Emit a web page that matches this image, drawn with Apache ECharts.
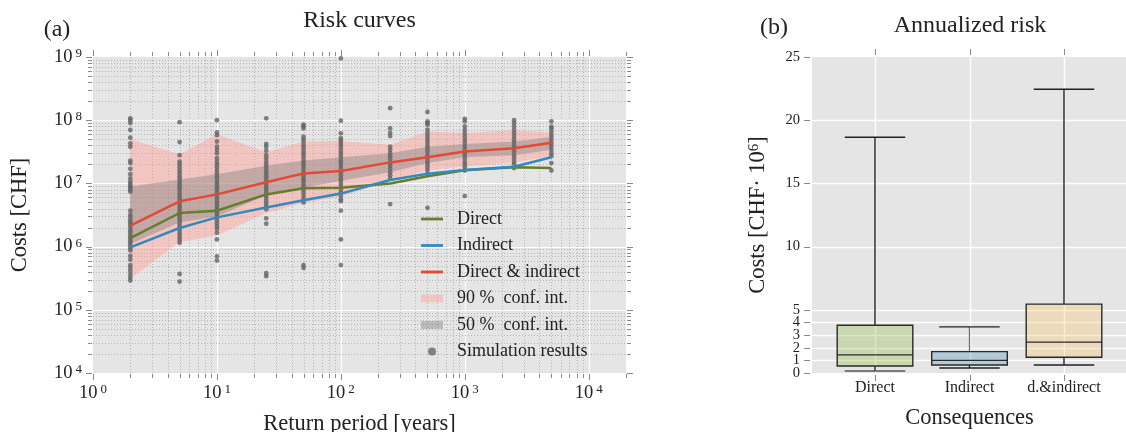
<!DOCTYPE html>
<html><head><meta charset="utf-8">
<script src="https://cdn.jsdelivr.net/npm/echarts@6/dist/echarts.min.js"></script>
<style>html,body{margin:0;padding:0;background:#fff}#c{width:1126px;height:432px}</style>
</head><body><div id="c"></div>
<script>
const FONT = '"Liberation Serif", "DejaVu Serif", serif';

// ---------- panel (a): risk curves ----------
const periods = [2, 5, 10, 25, 50, 100, 250, 500, 1000, 2500, 5000];
const directCosts   = [1.36e6, 3.4e6, 3.7e6, 6.7e6, 8.4e6, 8.5e6, 1.0e7, 1.3e7, 1.62e7, 1.8e7, 1.75e7];
const indirectCosts = [9.7e5, 1.97e6, 2.9e6, 4.15e6, 5.4e6, 6.9e6, 1.13e7, 1.42e7, 1.63e7, 1.83e7, 2.6e7];
const totalCosts    = [2.15e6, 5.2e6, 6.7e6, 1.04e7, 1.44e7, 1.57e7, 2.15e7, 2.6e7, 3.2e7, 3.6e7, 4.4e7];
const ci90Upper = [5.0e7, 2.9e7, 6.0e7, 3.1e7, 4.6e7, 4.7e7, 4.1e7, 6.6e7, 6.3e7, 7.0e7, 6.4e7];
const ci90Lower = [3.1e5, 1.18e6, 1.5e6, 3.4e6, 4.9e6, 6.2e6, 1.1e7, 1.6e7, 1.85e7, 2.15e7, 2.7e7];
const ci50Upper = [8.9e6, 1.15e7, 1.4e7, 1.9e7, 2.3e7, 2.6e7, 3.0e7, 3.8e7, 4.2e7, 4.6e7, 5.4e7];
const ci50Lower = [1.1e6, 2.4e6, 3.0e6, 6.5e6, 8.5e6, 1.1e7, 1.5e7, 2.1e7, 2.6e7, 2.8e7, 3.4e7];

// simulation results, one list per return period (same order as periods)
const sim2 = [1.07e8, 1.0e8, 9.0e7, 7.0e7, 5.3e7, 4.3e7, 3.8e7, 2.3e7, 2.1e7, 1.7e7, 1.4e7, 1.2e7, 1.07e7, 9.8e6, 9.1e6, 8.5e6, 7.9e6, 7.4e6, 3.7e6, 3.2e6, 2.9e6, 2.6e6, 2.4e6, 2.2e6, 2.0e6, 1.8e6, 1.66e6, 1.5e6, 1.38e6, 1.26e6, 1.15e6, 1.05e6, 9.5e5, 8.7e5, 7.1e5, 6.2e5, 5.1e5, 4.6e5, 4.1e5, 3.6e5, 3.2e5, 2.9e5];
const sim5 = [9.3e7, 4.5e7, 2.8e7, 2.2e7, 2.0e7, 1.8e7, 1.6e7, 1.45e7, 1.3e7, 1.18e7, 1.06e7, 9.6e6, 8.7e6, 7.9e6, 7.1e6, 6.4e6, 5.8e6, 5.2e6, 4.7e6, 4.3e6, 3.9e6, 3.5e6, 3.2e6, 2.9e6, 2.6e6, 2.35e6, 2.1e6, 1.9e6, 1.7e6, 1.55e6, 1.4e6, 1.27e6, 1.15e6, 3.7e5, 2.8e5];
const sim10 = [1.0e8, 6.4e7, 5.8e7, 4.6e7, 3.8e7, 3.4e7, 3.0e7, 2.5e7, 2.2e7, 2.0e7, 1.8e7, 1.6e7, 1.45e7, 1.3e7, 1.18e7, 1.06e7, 9.6e6, 8.7e6, 7.9e6, 7.1e6, 6.4e6, 5.8e6, 5.2e6, 4.7e6, 4.3e6, 3.9e6, 3.5e6, 3.2e6, 2.9e6, 2.6e6, 2.35e6, 2.1e6, 1.9e6, 1.65e6, 1.3e6, 7.0e5, 6.0e5];
const sim25 = [1.07e8, 4.2e7, 3.8e7, 3.3e7, 2.8e7, 2.5e7, 2.2e7, 2.0e7, 1.8e7, 1.6e7, 1.45e7, 1.3e7, 1.18e7, 1.06e7, 9.6e6, 8.7e6, 7.9e6, 7.1e6, 6.4e6, 5.8e6, 5.2e6, 4.7e6, 4.3e6, 3.9e6, 2.8e6, 2.3e6, 3.8e5, 3.4e5];
const sim50 = [8.5e7, 8.0e7, 7.4e7, 5.5e7, 5.0e7, 4.5e7, 4.0e7, 3.6e7, 3.2e7, 2.9e7, 2.6e7, 2.3e7, 2.1e7, 1.9e7, 1.7e7, 1.5e7, 1.35e7, 1.2e7, 1.1e7, 9.8e6, 8.8e6, 7.9e6, 7.1e6, 6.3e6, 5.6e6, 5.0e6, 5.1e5, 4.6e5];
const sim100 = [9.5e8, 9.8e7, 6.2e7, 5.2e7, 4.8e7, 4.4e7, 4.0e7, 3.6e7, 3.2e7, 2.9e7, 2.6e7, 2.3e7, 2.1e7, 1.9e7, 1.7e7, 1.5e7, 1.35e7, 1.2e7, 1.1e7, 9.8e6, 8.8e6, 7.9e6, 7.1e6, 6.3e6, 5.6e6, 5.2e6, 3.7e6, 1.3e6, 5.1e5];
const sim250 = [1.55e8, 7.4e7, 6.3e7, 5.6e7, 3.8e7, 3.4e7, 3.0e7, 2.7e7, 2.4e7, 2.1e7, 1.9e7, 1.7e7, 1.5e7, 1.35e7, 1.2e7, 4.7e6];
const sim500 = [1.35e8, 9.6e7, 9.0e7, 8.5e7, 7.1e7, 6.3e7, 5.6e7, 5.0e7, 4.5e7, 4.0e7, 3.6e7, 3.2e7, 2.8e7, 2.5e7, 2.2e7, 2.0e7, 1.8e7, 1.6e7, 1.4e7, 4.1e6];
const sim1000 = [1.05e8, 9.6e7, 8.0e7, 7.0e7, 6.2e7, 5.5e7, 4.9e7, 4.4e7, 3.9e7, 3.5e7, 3.1e7, 2.8e7, 2.5e7, 2.2e7, 2.0e7, 1.8e7, 1.6e7, 6.3e6];
const sim2500 = [1.0e8, 9.0e7, 8.0e7, 7.1e7, 6.3e7, 5.6e7, 5.0e7, 4.5e7, 4.0e7, 3.6e7, 3.2e7, 2.8e7, 2.5e7, 2.2e7, 2.0e7, 1.75e7];
const sim5000 = [9.6e7, 7.9e7, 7.4e7, 6.6e7, 5.9e7, 5.3e7, 4.7e7, 4.2e7, 3.8e7, 3.4e7, 3.0e7, 2.7e7, 2.1e7, 1.6e7];
const simulations = [sim2, sim5, sim10, sim25, sim50, sim100, sim250, sim500, sim1000, sim2500, sim5000];

// ---------- panel (b): annualized risk ----------
const consequences = ['Direct', 'Indirect', 'd.&indirect'];
// [lower whisker, Q1, median, Q3, upper whisker] in CHF·10^6
const riskDirect   = [0.16, 0.55, 1.43, 3.78, 18.65];
const riskIndirect = [0.40, 0.63, 1.00, 1.69, 3.65];
const riskTotal    = [0.63, 1.25, 2.44, 5.45, 22.45];
const riskTicks = [0, 1, 2, 3, 4, 5, 10, 15, 20, 25];
const riskTicksEven = [0, 2, 4, 5, 10, 15, 20, 25];
const riskTicksOdd = [1, 3];

const cGreen = '#667d2b', cBlue = '#348ABD', cRed = '#E24A33';
const c90 = 'rgba(255,160,150,0.45)', c50 = 'rgba(128,128,128,0.42)';
const boxFills = ['rgba(142,186,66,0.32)', 'rgba(52,138,189,0.3)', 'rgba(251,193,94,0.3)'];

// axis tick positions (structure, not data)
const xTickVals = [];
for (let e = 0; e <= 4; e++) for (let m = 1; m <= 9; m++) { const v = m * Math.pow(10, e); if (v <= 20000) xTickVals.push({v, major: m === 1}); }
const yTickVals = [];
for (let e = 4; e <= 8; e++) for (let m = 1; m <= 9; m++) yTickVals.push({v: m * Math.pow(10, e), major: m === 1});
yTickVals.push({v: 1e9, major: true});

const px = v => Math.round(v) + 0.5;
const TICK = '#8a8a8a';

function frameLeft(params, api) {
  const a = api.coord([1, 1e4]), b = api.coord([20000, 1e9]);
  const L = a[0], B = a[1], R = b[0], T = b[1];
  const ch = [];
  const dotted = {stroke: '#b4b4b4', lineWidth: 1, lineDash: [1, 2]};
  const white = {stroke: '#ffffff', lineWidth: 1.2};
  xTickVals.forEach(t => {
    const x = px(api.coord([t.v, 1e4])[0]);
    if (!t.major && t.v < 20000) ch.push({type: 'line', shape: {x1: x, y1: T, x2: x, y2: B}, style: dotted});
    if (t.major && t.v > 1) ch.push({type: 'line', shape: {x1: x, y1: T, x2: x, y2: B}, style: white});
    const len = t.major ? 6 : 4;
    ch.push({type: 'line', shape: {x1: x, y1: T - 1 - len, x2: x, y2: T - 1}, style: {stroke: TICK, lineWidth: 1}});
    ch.push({type: 'line', shape: {x1: x, y1: B + 1, x2: x, y2: B + 1 + len}, style: {stroke: TICK, lineWidth: 1}});
  });
  yTickVals.forEach(t => {
    const y = px(api.coord([1, t.v])[1]);
    if (!t.major) ch.push({type: 'line', shape: {x1: L, y1: y, x2: R, y2: y}, style: dotted});
    if (t.major && t.v > 1e4 && t.v < 1e9) ch.push({type: 'line', shape: {x1: L, y1: y, x2: R, y2: y}, style: white});
    const len = t.major ? 6 : 4;
    ch.push({type: 'line', shape: {x1: L - 1 - len, y1: y, x2: L - 1, y2: y}, style: {stroke: TICK, lineWidth: 1}});
    ch.push({type: 'line', shape: {x1: R + 1, y1: y, x2: R + 1 + len, y2: y}, style: {stroke: TICK, lineWidth: 1}});
  });
  return {type: 'group', children: ch, silent: true};
}

function frameRight(params, api) {
  const a = api.coord([1 / 3, 0]), b = api.coord([11 / 3, 25]);
  const L = a[0], B = a[1], R = b[0], T = b[1];
  const ch = [];
  const white = {stroke: '#ffffff', lineWidth: 1.4};
  riskTicks.forEach(v => {
    const y = px(api.coord([1, v])[1]);
    if (v > 0 && v < 25) ch.push({type: 'line', shape: {x1: L, y1: y, x2: R, y2: y}, style: white});
    ch.push({type: 'line', shape: {x1: L - 8, y1: y, x2: L - 2, y2: y}, style: {stroke: TICK, lineWidth: 1}});
  });
  [1, 2, 3].forEach(v => {
    const x = px(api.coord([v, 0])[0]);
    ch.push({type: 'line', shape: {x1: x, y1: T, x2: x, y2: B}, style: white});
    ch.push({type: 'line', shape: {x1: x, y1: T - 8, x2: x, y2: T - 2}, style: {stroke: TICK, lineWidth: 1}});
    ch.push({type: 'line', shape: {x1: x, y1: B + 2, x2: x, y2: B + 8}, style: {stroke: TICK, lineWidth: 1}});
  });
  return {type: 'group', children: ch, silent: true};
}

function bandRenderer(upper, lower, color) {
  return function (params, api) {
    if (params.dataIndex !== 0) return null;
    const pts = [];
    for (let i = 0; i < periods.length; i++) pts.push(api.coord([periods[i], upper[i]]));
    for (let i = periods.length - 1; i >= 0; i--) pts.push(api.coord([periods[i], lower[i]]));
    return {type: 'polygon', shape: {points: pts}, style: {fill: color}, silent: true};
  };
}

function boxRenderer(params, api) {
  const x = api.value(0);
  const lo = api.value(1), q1 = api.value(2), med = api.value(3), q3 = api.value(4), hi = api.value(5);
  const hw = 0.4, cw = 0.32;
  const p = (xx, yy) => api.coord([xx, yy]);
  const tl = p(x - hw, q3), br = p(x + hw, q1);
  const i = params.dataIndex;
  const whiskerColor = i === 1 ? '#6e6e6e' : '#111';
  const ch = [];
  ch.push({type: 'line', shape: {x1: p(x, q3)[0], y1: p(x, q3)[1], x2: p(x, hi)[0], y2: p(x, hi)[1]}, style: {stroke: whiskerColor, lineWidth: 1.3}});
  ch.push({type: 'line', shape: {x1: p(x, q1)[0], y1: p(x, q1)[1], x2: p(x, lo)[0], y2: p(x, lo)[1]}, style: {stroke: '#111', lineWidth: 1.3}});
  ch.push({type: 'line', shape: {x1: p(x - cw, hi)[0], y1: p(x, hi)[1], x2: p(x + cw, hi)[0], y2: p(x, hi)[1]}, style: {stroke: '#222', lineWidth: 1.4}});
  ch.push({type: 'line', shape: {x1: p(x - cw, lo)[0], y1: p(x, lo)[1], x2: p(x + cw, lo)[0], y2: p(x, lo)[1]}, style: {stroke: i === 0 ? '#555' : '#222', lineWidth: 1.4}});
  ch.push({type: 'rect', shape: {x: tl[0], y: tl[1], width: br[0] - tl[0], height: br[1] - tl[1]}, style: {fill: boxFills[i], stroke: '#2a2a2a', lineWidth: 1.4}});
  ch.push({type: 'line', shape: {x1: p(x - hw, med)[0], y1: p(x, med)[1], x2: p(x + hw, med)[0], y2: p(x, med)[1]}, style: {stroke: '#2a2a2a', lineWidth: 1.4}});
  return {type: 'group', children: ch};
}

function powLabel(v) {
  const e = Math.log10(v), r = Math.round(e);
  if (Math.abs(e - r) > 1e-6) return '';
  return '{b|10}{s|' + r + '}';
}
const powRich = {
  b: {fontFamily: FONT, fontSize: 18.5, color: '#222', lineHeight: 20},
  s: {fontFamily: FONT, fontSize: 13, color: '#222', verticalAlign: 'top', lineHeight: 12, padding: [0, 0, 0, 3]}
};

const simData = [];
periods.forEach((p, i) => simulations[i].forEach(v => simData.push([p, v])));

const lineIcon = 'path://M0,0L0,0M22,14L22,14M0,5.6L22,5.6L22,8.4L0,8.4Z';
const bandIcon = 'path://M0,0L0,0M22,14L22,14M0,3L22,3L22,11L0,11Z';
const dotIcon = 'path://M0,0L0,0M22,14L22,14M15,7A4,4,0,1,1,7,7A4,4,0,1,1,15,7Z';

const riskLabelStyle = {fontFamily: FONT, fontSize: 14.5, color: '#222', margin: 12,
  hideOverlap: false, showMinLabel: true, showMaxLabel: true};

const chart = echarts.init(document.getElementById('c'), null, {renderer: 'canvas'});
chart.setOption({
  animation: false,
  backgroundColor: '#ffffff',
  textStyle: {fontFamily: FONT},
  grid: [
    {left: 93, top: 57, width: 533, height: 316, show: true, backgroundColor: '#e5e5e5', borderWidth: 0, containLabel: false, outerBoundsMode: 'none'},
    {left: 812, top: 57, width: 315, height: 316, show: true, backgroundColor: '#e5e5e5', borderWidth: 0, containLabel: false, outerBoundsMode: 'none'}
  ],
  xAxis: [
    {type: 'log', gridIndex: 0, logBase: 10, min: 1, max: 20000,
     axisLine: {show: false}, axisTick: {show: false}, splitLine: {show: false}, minorTick: {show: false},
     axisLabel: {formatter: powLabel, rich: powRich, margin: 10, showMinLabel: true, showMaxLabel: true},
     name: 'Return period [years]', nameLocation: 'middle', nameGap: 40,
     nameTextStyle: {fontFamily: FONT, fontSize: 22.5, color: '#222'}},
    {type: 'value', gridIndex: 1, min: 1 / 3, max: 11 / 3,
     axisLine: {show: false}, axisTick: {show: false}, splitLine: {show: false},
     axisLabel: {customValues: [1, 2, 3], formatter: v => consequences[Math.round(v) - 1] || '', fontFamily: FONT, fontSize: 16, color: '#222', margin: 7},
     name: 'Consequences', nameLocation: 'middle', nameGap: 34,
     nameTextStyle: {fontFamily: FONT, fontSize: 22.5, color: '#222'}}
  ],
  yAxis: [
    {type: 'log', gridIndex: 0, logBase: 10, min: 1e4, max: 1e9,
     axisLine: {show: false}, axisTick: {show: false}, splitLine: {show: false}, minorTick: {show: false},
     axisLabel: {formatter: powLabel, rich: powRich, margin: 11, showMinLabel: true, showMaxLabel: true},
     name: 'Costs [CHF]', nameLocation: 'middle', nameGap: 61,
     nameTextStyle: {fontFamily: FONT, fontSize: 22.5, color: '#222'}},
    {type: 'value', gridIndex: 1, min: 0, max: 25, position: 'left',
     axisLine: {show: false}, axisTick: {show: false}, splitLine: {show: false},
     axisLabel: Object.assign({customValues: riskTicksEven}, riskLabelStyle),
     name: 'Costs [CHF· 10{s|6}]', nameLocation: 'middle', nameGap: 42,
     nameTextStyle: {fontFamily: FONT, fontSize: 22.5, color: '#222',
       rich: {s: {fontFamily: FONT, fontSize: 15, color: '#222', verticalAlign: 'top', lineHeight: 14}}}},
    {type: 'value', gridIndex: 1, min: 0, max: 25, position: 'left', offset: 0,
     axisLine: {show: false}, axisTick: {show: false}, splitLine: {show: false},
     axisLabel: Object.assign({customValues: riskTicksOdd}, riskLabelStyle)}
  ],
  legend: {
    orient: 'vertical', left: 421, top: 210, padding: 0, itemGap: 8.5, itemWidth: 22, itemHeight: 14,
    selectedMode: false, itemStyle: {borderWidth: 0},
    textStyle: {fontFamily: FONT, fontSize: 18, color: '#222', lineHeight: 18, padding: [0, 0, 0, 9]},
    data: [
      {name: 'Direct', icon: lineIcon, itemStyle: {color: cGreen}},
      {name: 'Indirect', icon: lineIcon, itemStyle: {color: cBlue}},
      {name: 'Direct & indirect', icon: lineIcon, itemStyle: {color: cRed}},
      {name: '90 %  conf. int.', icon: bandIcon, itemStyle: {color: c90}},
      {name: '50 %  conf. int.', icon: bandIcon, itemStyle: {color: c50}},
      {name: 'Simulation results', icon: dotIcon, itemStyle: {color: '#666666'}}
    ]
  },
  graphic: [
    {type: 'text', x: 359.5, y: 21, style: {text: 'Risk curves', font: '24px ' + FONT, fill: '#222', align: 'center', verticalAlign: 'middle'}},
    {type: 'text', x: 57, y: 29.5, style: {text: '(a)', font: '24px ' + FONT, fill: '#222', align: 'center', verticalAlign: 'middle'}},
    {type: 'text', x: 970, y: 26, style: {text: 'Annualized risk', font: '24px ' + FONT, fill: '#222', align: 'center', verticalAlign: 'middle'}},
    {type: 'text', x: 774, y: 27.5, style: {text: '(b)', font: '24px ' + FONT, fill: '#222', align: 'center', verticalAlign: 'middle'}}
  ],
  series: [
    {type: 'custom', name: 'frameA', xAxisIndex: 0, yAxisIndex: 0, z: 1, clip: false, silent: true,
     data: [[1, 1e4]], renderItem: frameLeft},
    {type: 'custom', name: '90 %  conf. int.', xAxisIndex: 0, yAxisIndex: 0, z: 2, silent: true, itemStyle: {color: c90},
     data: periods.map((p, i) => [p, ci90Upper[i], ci90Lower[i]]), encode: {x: 0, y: [1, 2]},
     renderItem: bandRenderer(ci90Upper, ci90Lower, c90)},
    {type: 'custom', name: '50 %  conf. int.', xAxisIndex: 0, yAxisIndex: 0, z: 3, silent: true, itemStyle: {color: c50},
     data: periods.map((p, i) => [p, ci50Upper[i], ci50Lower[i]]), encode: {x: 0, y: [1, 2]},
     renderItem: bandRenderer(ci50Upper, ci50Lower, c50)},
    {type: 'scatter', name: 'Simulation results', xAxisIndex: 0, yAxisIndex: 0, z: 4, symbolSize: 4.8,
     itemStyle: {color: '#646464'}, data: simData},
    {type: 'line', name: 'Direct', xAxisIndex: 0, yAxisIndex: 0, z: 5, symbol: 'none', color: cGreen,
     lineStyle: {color: cGreen, width: 2.5}, data: periods.map((p, i) => [p, directCosts[i]])},
    {type: 'line', name: 'Indirect', xAxisIndex: 0, yAxisIndex: 0, z: 5, symbol: 'none', color: cBlue,
     lineStyle: {color: cBlue, width: 2.5}, data: periods.map((p, i) => [p, indirectCosts[i]])},
    {type: 'line', name: 'Direct & indirect', xAxisIndex: 0, yAxisIndex: 0, z: 5, symbol: 'none', color: cRed,
     lineStyle: {color: cRed, width: 2.5}, data: periods.map((p, i) => [p, totalCosts[i]])},
    {type: 'custom', name: 'frameB', xAxisIndex: 1, yAxisIndex: 1, z: 1, clip: false, silent: true,
     data: [[1, 0]], renderItem: frameRight},
    {type: 'custom', name: 'box', xAxisIndex: 1, yAxisIndex: 1, z: 3, clip: false, silent: true,
     data: [[1].concat(riskDirect), [2].concat(riskIndirect), [3].concat(riskTotal)],
     encode: {x: 0, y: [1, 2, 3, 4, 5]}, renderItem: boxRenderer}
  ]
});
</script>
</body></html>
